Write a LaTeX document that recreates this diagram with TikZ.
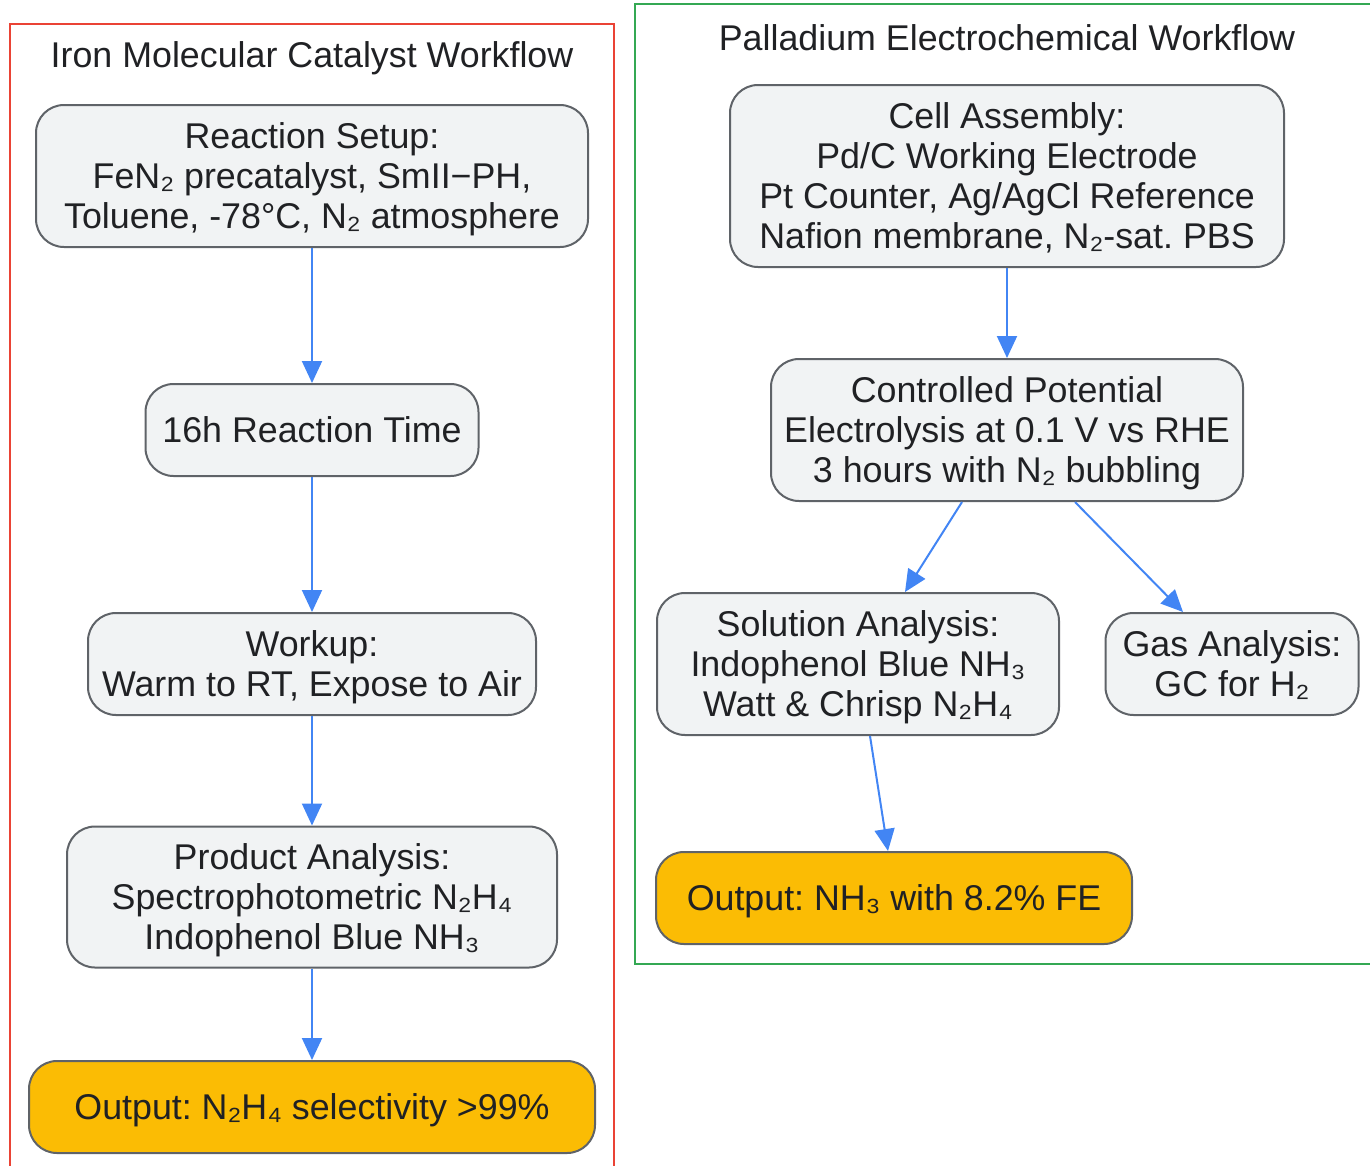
\documentclass[tikz,border=0pt]{standalone}
\usepackage{fontspec}
\setmainfont{Liberation Sans}
\usetikzlibrary{arrows.meta}
\definecolor{boxfill}{HTML}{F1F3F4}
\definecolor{boxline}{HTML}{5F6368}
\definecolor{outfill}{HTML}{FBBC04}
\definecolor{flow}{HTML}{4285F4}
\definecolor{ironred}{HTML}{EA4335}
\definecolor{pdgreen}{HTML}{34A853}
\definecolor{txt}{HTML}{202124}
\frenchspacing
\begin{document}
\begin{tikzpicture}[x=1pt,y=-1pt,
    font=\fontsize{35.8}{40}\selectfont, text=txt,
    box/.style={draw=boxline, fill=boxfill, line width=2pt, rounded corners=28pt, align=center, inner sep=0pt, text depth=0pt},
    outbox/.style={box, fill=outfill},
    flowarrow/.style={draw=flow, line width=2pt, -{Triangle[length=22pt,width=20pt]}}]
            \useasboundingbox (0,0) rectangle (1370,1165);
            \draw[ironred, line width=2pt] (10,24) rectangle (614,1190);
            \draw[pdgreen, line width=2pt] (635,4) rectangle (1390,964);

            \node (irontitle) at (312,58) {Iron Molecular Catalyst Workflow};
            \node[box, minimum width=552pt, minimum height=142pt] (setup) at (312,176) {Reaction Setup:\\FeN₂ precatalyst, SmII−PH,\\Toluene, -78°C, N₂ atmosphere};
            \node[box, minimum width=333pt, minimum height=92pt] (time) at (312,430) {16h Reaction Time};
            \node[box, minimum width=448pt, minimum height=102pt] (workup) at (312,664) {Workup:\\Warm to RT, Expose to Air};
            \node[box, minimum width=490pt, minimum height=141pt] (product) at (312,897) {Product Analysis:\\Spectrophotometric N₂H₄\\Indophenol Blue NH₃};
            \node[outbox, minimum width=566pt, minimum height=92pt] (ironout) at (312,1107) {Output: N₂H₄ selectivity >99\%};

            \node (pdtitle) at (1007,38) {Palladium Electrochemical Workflow};
            \node[box, minimum width=554pt, minimum height=182pt] (cell) at (1007,176) {Cell Assembly:\\Pd/C Working Electrode\\Pt Counter, Ag/AgCl Reference\\Nafion membrane, N₂-sat. PBS};
            \node[box, minimum width=472pt, minimum height=142pt] (cpe) at (1007,430) {Controlled Potential\\Electrolysis at 0.1 V vs RHE\\3 hours with N₂ bubbling};
            \node[box, minimum width=402pt, minimum height=142pt] (solution) at (858,664) {Solution Analysis:\\Indophenol Blue NH₃\\Watt \& Chrisp N₂H₄};
            \node[box, minimum width=253pt, minimum height=102pt] (gas) at (1232,664) {Gas Analysis:\\GC for H₂};
            \node[outbox, minimum width=476pt, minimum height=92pt] (pdout) at (894,898) {Output: NH₃ with 8.2\% FE};

            \draw[flowarrow] (setup) -- (time);
            \draw[flowarrow] (time) -- (workup);
            \draw[flowarrow] (workup) -- (product);
            \draw[flowarrow] (product) -- (ironout);

            \draw[flowarrow] (cell) -- (cpe);
            \draw[flowarrow] ([xshift=-45pt]cpe.south) -- ([xshift=47pt]solution.north);
            \draw[flowarrow] ([xshift=68pt]cpe.south) -- ([xshift=-49pt]gas.north);
            \draw[flowarrow] ([xshift=12pt]solution.south) -- ([xshift=-6pt]pdout.north);
        \end{tikzpicture}
\end{document}
